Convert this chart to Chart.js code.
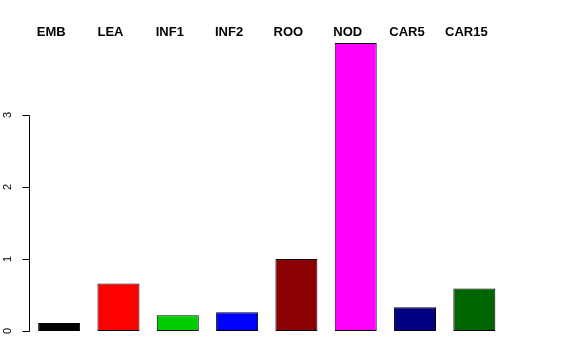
<!DOCTYPE html>
<html>
<head>
<meta charset="utf-8">
<script src="https://cdn.jsdelivr.net/npm/chart.js@4"></script>
<style>
  html, body { margin: 0; padding: 0; background: #fff; }
  #wrap { width: 576px; height: 360px; }
</style>
</head>
<body>
<div id="wrap"><canvas id="barChart" width="576" height="360"></canvas></div>
<script>
const tissues = ["EMB", "LEA", "INF1", "INF2", "ROO", "NOD", "CAR5", "CAR15"];
const levels = [0.11, 0.66, 0.22, 0.26, 1.0, 4.0, 0.33, 0.59];
const barColors = ["#000000", "#FF0000", "#00CD00", "#0000FF", "#8B0000", "#FF00FF", "#000080", "#006400"];
const yTicks = [0, 1, 2, 3];

// R-style left axis (rotated labels) and names along the top
const rAxes = {
  id: "rAxes",
  afterDraw(chart) {
    const c = chart.ctx;
    const x = chart.scales.x;
    const y = chart.scales.y;
    const ax = Math.round(chart.chartArea.left) - 0.5;

    c.save();
    c.strokeStyle = "#000";
    c.lineWidth = 1;
    c.beginPath();
    c.moveTo(ax, Math.round(y.getPixelForValue(yTicks[0])) + 0.5);
    c.lineTo(ax, Math.round(y.getPixelForValue(yTicks[yTicks.length - 1])) + 0.5);
    yTicks.forEach(t => {
      const py = Math.round(y.getPixelForValue(t)) + 0.5;
      c.moveTo(ax, py);
      c.lineTo(ax - 7, py);
    });
    c.stroke();

    c.fillStyle = "#000";
    c.font = "11px 'Liberation Sans', Arial, sans-serif";
    c.textAlign = "center";
    c.textBaseline = "middle";
    yTicks.forEach(t => {
      const py = y.getPixelForValue(t);
      c.save();
      c.translate(ax - 22, py);
      c.rotate(-Math.PI / 2);
      c.fillText(String(t), 0, 0);
      c.restore();
    });

    c.font = "bold 13px 'Liberation Sans', Arial, sans-serif";
    tissues.forEach((name, i) => {
      c.fillText(name, x.getPixelForValue(i) - 8, 32);
    });
    c.restore();
  }
};

new Chart(document.getElementById("barChart"), {
  type: "bar",
  data: {
    labels: tissues,
    datasets: [{
      data: levels,
      backgroundColor: barColors,
      borderColor: "#000",
      borderWidth: 1,
      borderSkipped: false,
      categoryPercentage: 1,
      barPercentage: 0.708
    }]
  },
  options: {
    responsive: false,
    animation: false,
    layout: { padding: { left: 29.5, right: 72, top: 43, bottom: 29 } },
    scales: {
      x: { display: false, offset: true },
      y: { display: false, min: 0, max: 4 }
    },
    plugins: {
      legend: { display: false },
      tooltip: { enabled: false }
    }
  },
  plugins: [rAxes]
});
</script>
</body>
</html>
